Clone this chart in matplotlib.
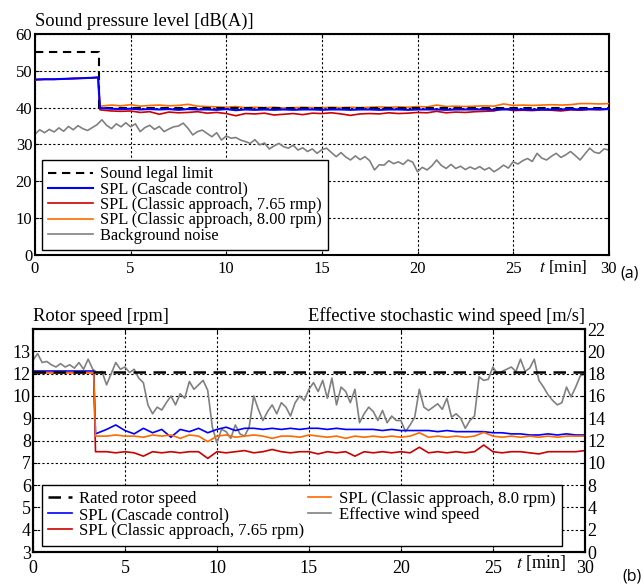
import numpy as np
import matplotlib
matplotlib.use("Agg")
import matplotlib.pyplot as plt

plt.rcParams["font.family"] = ["Liberation Serif", "DejaVu Serif"]
plt.rcParams["mathtext.fontset"] = "stix"

# time grid (min) used by the SPL / rotor speed traces
t_ctrl = [0.0, 0.5, 1.0, 1.5, 2.0, 2.5, 3.0, 3.3, 3.4,
          4.0, 4.5, 5.0, 5.5, 6.0, 6.5, 7.0, 7.5, 8.0, 8.5,
          9.0, 9.5, 10.0, 10.5, 11.0, 11.5, 12.0, 12.5, 13.0, 13.5,
          14.0, 14.5, 15.0, 15.5, 16.0, 16.5, 17.0, 17.5, 18.0, 18.5,
          19.0, 19.5, 20.0, 20.5, 21.0, 21.5, 22.0, 22.5, 23.0, 23.5,
          24.0, 24.5, 25.0, 25.5, 26.0, 26.5, 27.0, 27.5, 28.0, 28.5,
          29.0, 29.5, 30.0]

# ---- (a) sound pressure level [dB(A)]
t_limit = [0, 3.35, 3.35, 30]
spl_limit = [55, 55, 40, 40]

spl_cascade = [47.6, 47.7, 47.7, 47.8, 47.9, 48.0, 48.1, 48.2, 39.9,
               39.7, 39.6, 39.7, 39.5, 39.6, 39.5, 39.6, 39.4, 39.6, 39.5,
               39.5, 39.4, 39.6, 39.3, 39.5, 39.4, 39.5, 39.4, 39.5, 39.4,
               39.5, 39.5, 39.4, 39.5, 39.5, 39.4, 39.5, 39.5, 39.4, 39.5,
               39.5, 39.4, 39.5, 39.5, 39.5, 39.4, 39.5, 39.5, 39.5, 39.5,
               39.4, 39.5, 39.5, 39.5, 39.4, 39.5, 39.5, 39.5, 39.6, 39.5,
               39.6, 39.6, 39.6]
spl_765 = [47.6, 47.7, 47.7, 47.8, 47.9, 48.0, 48.1, 48.2, 39.4,
           39.1, 39.0, 39.1, 38.7, 38.9, 38.2, 38.8, 38.6, 38.7, 38.9,
           38.5, 38.7, 38.4, 37.8, 38.4, 38.3, 38.5, 38.0, 38.2, 38.4,
           38.1, 38.5, 38.4, 38.6, 38.3, 37.9, 38.3, 38.4, 38.3, 38.6,
           38.4, 38.5, 38.7, 38.6, 39.0, 38.6, 38.8, 38.7, 38.9, 39.0,
           39.1, 39.8, 39.2, 39.3, 39.2, 39.4, 39.3, 39.1, 39.4, 39.3,
           39.5, 39.4, 39.6]
spl_800 = [47.6, 47.7, 47.7, 47.8, 47.9, 48.0, 48.1, 48.2, 40.4,
           40.7, 40.5, 40.8, 40.4, 40.6, 40.7, 40.5, 40.6, 40.9, 40.4,
           40.3, 40.2, 40.1, 40.3, 40.0, 40.1, 40.0, 40.1, 39.9, 40.0,
           40.1, 40.0, 40.0, 40.1, 40.0, 40.1, 40.0, 40.1, 40.2, 40.1,
           40.2, 40.1, 40.3, 40.2, 40.7, 40.3, 40.4, 40.3, 40.4, 40.5,
           40.4, 41.0, 40.6, 40.7, 40.6, 40.7, 40.8, 40.7, 40.8, 41.1,
           41.1, 41.0, 41.1]

# background noise, one row per minute (samples every 15 s)
noise_rows = [
    [32.8, 34.0, 33.2, 34.1], [33.4, 34.5, 33.6, 34.9], [34.0, 35.1, 34.3, 33.8],
    [34.6, 35.4, 36.7, 35.2], [34.3, 35.6, 34.8, 35.9], [34.8, 35.6, 33.5, 34.6],
    [35.2, 34.1, 34.9, 33.5], [34.2, 34.8, 35.0, 35.8], [34.4, 32.6, 33.5, 33.9],
    [33.0, 32.1, 33.2, 31.2], [32.3, 31.7, 31.9, 31.2], [30.8, 30.3, 31.3, 29.9],
    [30.4, 28.8, 29.6, 30.3], [29.4, 29.0, 29.8, 28.5], [29.1, 28.1, 28.8, 27.6],
    [28.6, 29.0, 27.8, 26.7], [27.8, 26.6, 25.8, 26.9], [25.9, 26.7, 25.6, 23.1],
    [24.5, 24.4, 25.6, 24.8], [25.3, 24.6, 25.8, 25.2], [22.6, 23.8, 23.1, 24.2],
    [25.8, 24.3, 23.5, 24.6], [23.5, 24.1, 23.2, 23.9], [23.3, 24.0, 23.1, 23.7],
    [22.6, 23.4, 24.4, 23.6], [25.3, 24.7, 25.6, 26.2], [25.4, 27.6, 26.3, 25.8],
    [26.8, 27.6, 26.5, 27.2], [28.1, 27.0, 25.8, 27.4], [29.0, 27.9, 27.6, 28.8],
    [28.5]]

# ---- (b) rotor speed (left scale positions) and wind speed
rated_speed = 11.08
rpm_cascade = [11.12, 11.12, 11.12, 11.12, 11.12, 11.12, 11.12, 11.12, 8.3,
               8.5, 8.7, 8.45, 8.3, 8.55, 8.35, 8.5, 8.15, 8.5, 8.4,
               8.55, 8.35, 8.5, 8.6, 8.45, 8.55, 8.55, 8.5, 8.55, 8.5,
               8.55, 8.5, 8.55, 8.55, 8.5, 8.55, 8.5, 8.5, 8.5, 8.5,
               8.45, 8.5, 8.45, 8.45, 8.45, 8.45, 8.4, 8.45, 8.4, 8.4,
               8.4, 8.4, 8.35, 8.35, 8.3, 8.3, 8.25, 8.25, 8.3, 8.25,
               8.3, 8.25, 8.25]
rpm_765 = [11.05, 11.05, 11.05, 11.05, 11.05, 11.05, 11.05, 11.05, 7.5,
           7.5, 7.45, 7.5, 7.45, 7.3, 7.5, 7.45, 7.5, 7.45, 7.5,
           7.5, 7.2, 7.5, 7.45, 7.5, 7.55, 7.45, 7.5, 7.6, 7.5,
           7.45, 7.5, 7.5, 7.4, 7.5, 7.45, 7.5, 7.3, 7.5, 7.45,
           7.5, 7.45, 7.5, 7.45, 7.7, 7.45, 7.5, 7.45, 7.5, 7.45,
           7.5, 7.8, 7.5, 7.45, 7.5, 7.5, 7.45, 7.4, 7.5, 7.5,
           7.5, 7.5, 7.55]
rpm_800 = [11.05, 11.05, 11.05, 11.05, 11.05, 11.05, 11.05, 11.05, 8.2,
           8.2, 8.25, 8.2, 8.2, 8.15, 8.25, 8.2, 8.25, 8.1, 8.25,
           8.2, 7.95, 8.2, 8.25, 8.15, 8.2, 8.25, 8.2, 8.1, 8.2,
           8.2, 8.15, 8.25, 8.2, 8.15, 8.2, 8.1, 8.2, 8.15, 8.2,
           8.15, 8.2, 8.15, 8.2, 8.35, 8.15, 8.2, 8.15, 8.2, 8.15,
           8.2, 8.37, 8.2, 8.15, 8.2, 8.15, 8.2, 8.15, 8.2, 8.15,
           8.2, 8.2, 8.2]

wind_rows = [
    [11.6, 11.9, 11.5, 11.55], [11.4, 11.3, 11.45, 11.3], [11.4, 11.25, 11.5, 11.2],
    [11.65, 11.2, 11.05, 11.1], [10.5, 11.0, 11.5, 11.2], [11.3, 11.05, 11.2, 10.8],
    [10.6, 9.6, 9.2, 9.5], [9.37, 9.7, 10.0, 9.6], [10.1, 9.9, 10.65, 10.3],
    [10.5, 10.7, 10.25, 8.6], [7.9, 8.5, 8.4, 8.1], [8.7, 8.3, 8.2, 8.6],
    [10.0, 9.4, 8.9, 9.3], [9.6, 9.2, 9.7, 9.5], [9.1, 9.7, 10.0, 9.8],
    [10.3, 10.6, 10.2, 10.7], [9.9, 10.8, 9.6, 10.4], [10.2, 9.7, 10.3, 8.8],
    [9.2, 9.5, 9.3, 8.9], [9.35, 8.8, 9.1, 8.9], [8.9, 8.4, 8.7, 9.05],
    [10.3, 9.5, 9.35, 9.5], [9.65, 9.4, 9.9, 9.05], [9.2, 9.0, 8.55, 8.9],
    [9.1, 10.86, 10.7, 10.75], [11.3, 11.0, 11.1, 11.2], [11.3, 11.1, 11.65, 11.1],
    [11.25, 11.65, 10.7, 10.4], [10.05, 9.8, 9.6, 9.7], [10.4, 9.96, 10.4, 10.9],
    [11.0]]

x_ticks = [0, 5, 10, 15, 20, 25, 30]
x_ticklabels = ["0", "5", "10", "15", "20", "25", "30"]
spl_ticks = [0, 10, 20, 30, 40, 50, 60]
rpm_ticks = [3, 4, 5, 6, 7, 8, 9, 10, 11, 12]
rpm_ticklabels = ["3", "4", "5", "6", "7", "8", "9", "10", "12", "13"]
wind_ticks = [3, 4, 5, 6, 7, 8, 9, 10, 11, 12, 13]
wind_ticklabels = ["0", "2", "4", "8", "10", "12", "14", "16", "18", "20", "22"]

noise = np.concatenate([np.array(r) for r in noise_rows])
wind = np.concatenate([np.array(r) for r in wind_rows])
t_fine = np.arange(len(noise)) * 0.25

C_BLUE = "#0000ff"
C_RED = "#cc0000"
C_ORANGE = "#ff6a00"
C_GRAY = "#808080"

fig = plt.figure(figsize=(6.44, 5.85), dpi=100)
ax1 = fig.add_axes([0.0543, 0.564, 0.891, 0.378])
ax2 = fig.add_axes([0.0512, 0.0564, 0.857, 0.381])

grid_kw = dict(color="black", linestyle=(0, (2, 2)), linewidth=0.8)

# ---------------- (a)
ax1.plot(t_fine, noise, color=C_GRAY, lw=1.2, label="Background noise", zorder=2)
ax1.plot(t_ctrl, spl_765, color=C_RED, lw=1.2, label="SPL (Classic approach, 7.65 rmp)", zorder=3)
ax1.plot(t_ctrl, spl_800, color=C_ORANGE, lw=1.2, label="SPL (Classic approach, 8.00 rpm)", zorder=4)
ax1.plot(t_limit, spl_limit, color="black", lw=1.5, linestyle=(0, (4, 2.7)),
         label="Sound legal limit", zorder=5)
ax1.plot(t_ctrl, spl_cascade, color=C_BLUE, lw=1.5, label="SPL (Cascade control)", zorder=6)

ax1.set_xlim(0, 30)
ax1.set_ylim(0, 60)
ax1.set_xticks(x_ticks)
ax1.set_xticklabels(x_ticklabels)
ax1.set_yticks(spl_ticks)
ax1.grid(True, **grid_kw)
ax1.tick_params(direction="in", length=3, labelsize=12, pad=2, top=True, right=True)
ax1.tick_params(axis="x", pad=4)
for s in ax1.spines.values():
    s.set_linewidth(1.5)

h, l = ax1.get_legend_handles_labels()
order = [3, 4, 1, 2, 0]
leg1 = ax1.legend([h[i] for i in order], [l[i] for i in order], loc="lower left",
                  bbox_to_anchor=(0.012, 0.022), borderaxespad=0, fontsize=11.8,
                  labelspacing=-0.04, handlelength=2.7, handletextpad=0.45,
                  fancybox=False, framealpha=1, edgecolor="black", borderpad=0.4)
leg1.get_frame().set_linewidth(1.0)

ax1.text(0, 1.02, "Sound pressure level [dB(A)]", transform=ax1.transAxes,
         ha="left", va="bottom", fontsize=13.3)
ax1.text(27.6, -0.056, "$t$ [min]", transform=ax1.get_xaxis_transform(),
         ha="center", va="center", fontsize=12.5)
fig.text(0.978, 0.533, "(a)", family="Open Sans", fontsize=11.5, ha="center", va="center")

# ---------------- (b)
ax2.plot(t_fine, wind, color=C_GRAY, lw=1.2, label="Effective wind speed", zorder=2)
ax2.plot(t_ctrl, rpm_765, color=C_RED, lw=1.2, label="SPL (Classic approach, 7.65 rpm)", zorder=3)
ax2.plot(t_ctrl, rpm_cascade, color=C_BLUE, lw=1.2, label="SPL (Cascade control)", zorder=4)
ax2.plot(t_ctrl, rpm_800, color=C_ORANGE, lw=1.2, label="SPL (Classic approach, 8.0 rpm)", zorder=5)
ax2.plot([0, 30], [rated_speed, rated_speed], color="black", lw=1.8, linestyle=(0, (5, 3)),
         label="Rated rotor speed", zorder=6)

ax2.set_xlim(0, 30)
ax2.set_ylim(3, 13)
ax2.set_xticks(x_ticks)
ax2.set_xticklabels(x_ticklabels)
ax2.set_yticks(rpm_ticks)
ax2.set_yticklabels(rpm_ticklabels)
ax2.grid(True, **grid_kw)
ax2.tick_params(direction="in", length=3, labelsize=13, pad=1.5, top=True)
ax2.tick_params(axis="x", pad=6)
for s in ax2.spines.values():
    s.set_linewidth(1.5)

ax2r = ax2.twinx()
ax2r.set_ylim(3, 13)
ax2r.set_yticks(wind_ticks)
ax2r.set_yticklabels(wind_ticklabels)
ax2r.tick_params(direction="in", length=3, labelsize=13, pad=2)
for s in ax2r.spines.values():
    s.set_linewidth(1.5)

h, l = ax2.get_legend_handles_labels()
order = [4, 2, 1, 3, 0]
leg2 = ax2.legend([h[i] for i in order], [l[i] for i in order], loc="lower left", ncol=2,
                  bbox_to_anchor=(0.016, 0.027), borderaxespad=0, fontsize=12,
                  labelspacing=0.0, handlelength=1.4, handletextpad=0.45,
                  columnspacing=0.2, fancybox=False, framealpha=1, edgecolor="black",
                  borderpad=0.4)
leg2.get_frame().set_linewidth(1.0)
leg2.set_zorder(10)

ax2.text(0, 1.02, "Rotor speed [rpm]", transform=ax2.transAxes,
         ha="left", va="bottom", fontsize=13.3)
ax2.text(1, 1.02, "Effective stochastic wind speed [m/s]", transform=ax2.transAxes,
         ha="right", va="bottom", fontsize=13.3)
ax2.text(27.6, -0.05, "$t$ [min]", transform=ax2.get_xaxis_transform(),
         ha="center", va="center", fontsize=13)
fig.text(0.981, 0.014, "(b)", family="Open Sans", fontsize=11.5, ha="center", va="center")

fig.savefig("out.png", dpi=100)
